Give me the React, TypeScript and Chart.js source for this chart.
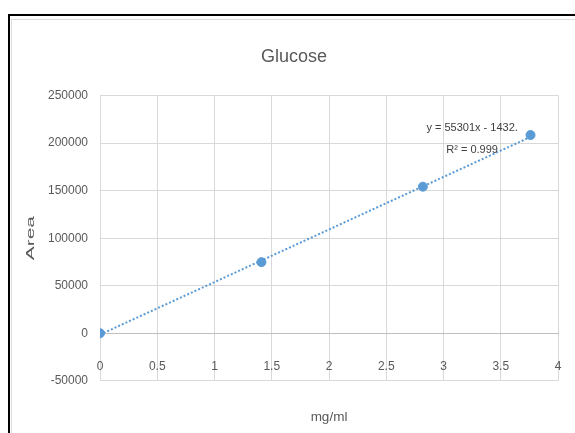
import { useEffect, useRef } from "react";
import { Chart, registerables } from "chart.js";

Chart.register(...registerables);

// concentration (mg/ml) and peak area
const concentrations = [0, 1.41, 2.82, 3.76];
const areas = [0, 74800, 154200, 208500];

// linear trendline as printed on the chart
const slope = 55301;
const intercept = -1432;
const equationLines = ["y = 55301x - 1432.", "R\u00b2 = 0.999"];
const equationAnchor = { x: 3.25, y: [216000, 193000] };

const xTicks = { min: 0, max: 4, step: 0.5 };
const yTicks = { min: -50000, max: 250000, step: 50000 };

const FONT = '"Liberation Sans", Arial, sans-serif';
const TEXT = "#595959";
const GRID = "#d9d9d9";
const BLUE = "#5b9bd5";

const labelsPlugin = {
  id: "trendLabels",
  afterDatasetsDraw(chart: Chart) {
    const { ctx, chartArea, scales } = chart;
    ctx.save();
    ctx.fillStyle = "#404040";
    ctx.font = `11px ${FONT}`;
    ctx.textAlign = "center";
    ctx.textBaseline = "middle";
    const px = scales.x.getPixelForValue(equationAnchor.x);
    equationLines.forEach((line, i) => {
      ctx.fillText(line, px, scales.y.getPixelForValue(equationAnchor.y[i]));
    });
    ctx.restore();

    // vertical axis title, stretched along its length like the original
    ctx.save();
    ctx.translate(chartArea.left - 69, (chartArea.top + chartArea.bottom) / 2);
    ctx.rotate(-Math.PI / 2);
    ctx.scale(1.9, 1);
    ctx.font = `11px ${FONT}`;
    ctx.fillStyle = TEXT;
    ctx.textAlign = "center";
    ctx.textBaseline = "middle";
    ctx.fillText("Area", 0, 0);
    ctx.restore();
  },
};

function GlucoseChart() {
  const canvasRef = useRef<HTMLCanvasElement>(null);
  const chartRef = useRef<Chart | null>(null);

  useEffect(() => {
    if (!canvasRef.current) return;
    const points = concentrations.map((x, i) => ({ x, y: areas[i] }));
    const xLo = concentrations[0];
    const xHi = concentrations[concentrations.length - 1];
    const trend = [
      { x: xLo, y: slope * xLo + intercept },
      { x: xHi, y: slope * xHi + intercept },
    ];

    chartRef.current = new Chart(canvasRef.current, {
      type: "scatter",
      data: {
        datasets: [
          {
            data: trend,
            showLine: true,
            borderColor: BLUE,
            borderWidth: 2,
            borderDash: [2, 2],
            pointRadius: 0,
            order: 2,
          },
          {
            data: points,
            backgroundColor: BLUE,
            borderColor: BLUE,
            pointRadius: 4.5,
            order: 1,
          },
        ],
      },
      options: {
        animation: false,
        responsive: true,
        maintainAspectRatio: false,
        layout: { padding: 0 },
        plugins: {
          legend: { display: false },
          tooltip: { enabled: false },
          title: {
            display: true,
            text: "Glucose",
            color: TEXT,
            font: { family: FONT, size: 18, weight: "normal" },
            padding: { top: 24, bottom: 28 },
          },
          subtitle: {
            display: true,
            position: "bottom",
            fullSize: false,
            text: "mg/ml",
            color: TEXT,
            font: { family: FONT, size: 13.5 },
            padding: { top: 28, bottom: 8 },
          },
        },
        scales: {
          x: {
            type: "linear",
            position: { y: 0 },
            min: xTicks.min,
            max: xTicks.max,
            grid: { color: GRID, drawTicks: false },
            border: { color: "#bfbfbf" },
            afterFit: (scale: any) => {
              // keep a fixed gap on the right of the plot
              scale.paddingLeft = 0;
              scale.paddingRight = 17;
            },
            ticks: {
              stepSize: xTicks.step,
              color: TEXT,
              padding: 26,
              font: { family: FONT, size: 12 },
              callback: (v: any) => String(v),
            },
          },
          y: {
            type: "linear",
            min: yTicks.min,
            max: yTicks.max,
            grid: { color: GRID, drawTicks: false },
            border: { display: false },
            afterFit: (scale: any) => {
              scale.width = 87;
            },
            ticks: {
              stepSize: yTicks.step,
              color: TEXT,
              padding: 12,
              font: { family: FONT, size: 12 },
              callback: (v: any) => String(v),
            },
          },
        },
      },
      plugins: [labelsPlugin],
    });

    return () => {
      chartRef.current?.destroy();
      chartRef.current = null;
    };
  }, []);

  return (
    <div style={{ position: "fixed", left: 13, top: 22, width: 562, height: 411 }}>
      <canvas ref={canvasRef}></canvas>
    </div>
  );
}

export default function App() {
  return (
    <>
      <div
        style={{
          position: "fixed",
          left: 8,
          top: 14,
          width: 620,
          height: 480,
          borderTop: "2px solid #000",
          borderLeft: "2px solid #000",
        }}
      />
      <div
        style={{
          position: "fixed",
          left: 11,
          top: 19,
          width: 620,
          height: 480,
          border: "1.5px solid #dcdcdc",
        }}
      />
      <GlucoseChart />
    </>
  );
}
